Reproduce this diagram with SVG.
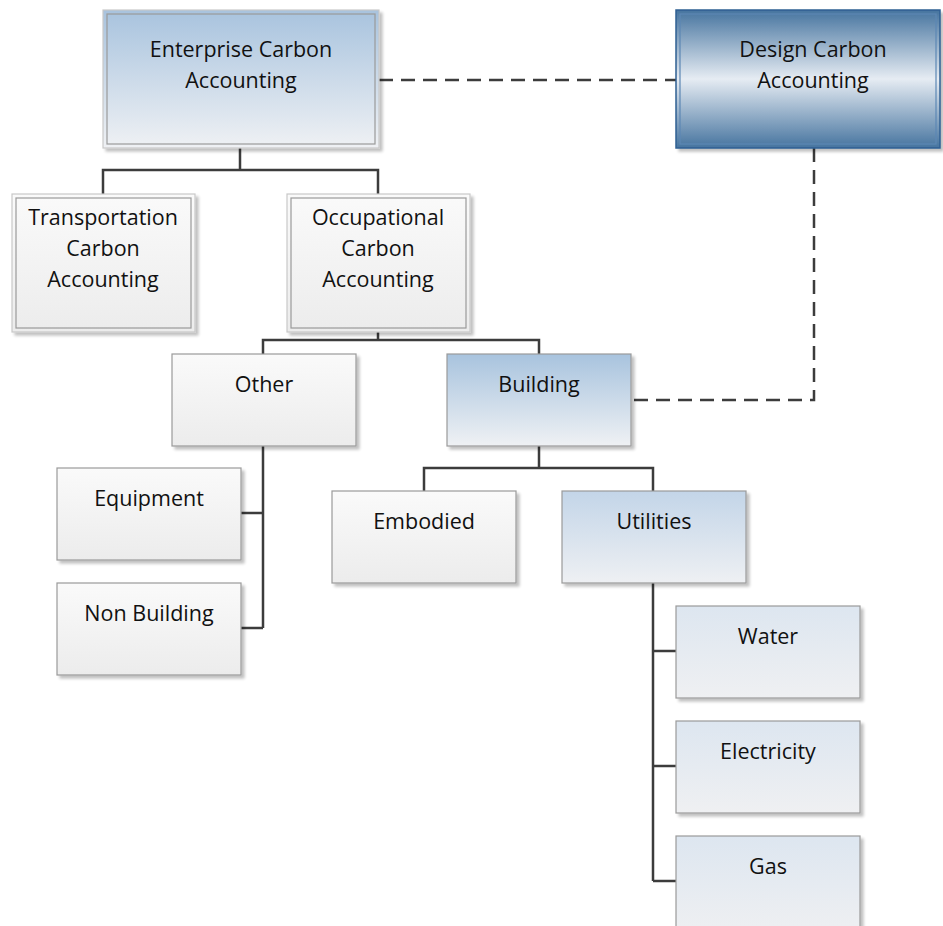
<svg xmlns="http://www.w3.org/2000/svg" width="943" height="926" viewBox="0 0 943 926">
  <defs>
    <linearGradient id="gGray" x1="0" y1="0" x2="0" y2="1">
      <stop offset="0" stop-color="#fafafa"/>
      <stop offset="1" stop-color="#ececec"/>
    </linearGradient>
    <linearGradient id="gBlue" x1="0" y1="0" x2="0" y2="1">
      <stop offset="0" stop-color="#a8c3de"/>
      <stop offset="1" stop-color="#eff1f4"/>
    </linearGradient>
    <linearGradient id="gBlueSoft" x1="0" y1="0" x2="0" y2="1">
      <stop offset="0" stop-color="#c3d5e8"/>
      <stop offset="1" stop-color="#eef0f3"/>
    </linearGradient>
    <linearGradient id="gPale" x1="0" y1="0" x2="0" y2="1">
      <stop offset="0" stop-color="#dde6f0"/>
      <stop offset="1" stop-color="#eff0f2"/>
    </linearGradient>
    <linearGradient id="gDark" x1="0" y1="0" x2="0" y2="1">
      <stop offset="0" stop-color="#46749f"/>
      <stop offset="0.5" stop-color="#e6ecf3"/>
      <stop offset="1" stop-color="#46749f"/>
    </linearGradient>
    <filter id="shadow" x="-10%" y="-10%" width="130%" height="130%">
      <feGaussianBlur in="SourceAlpha" stdDeviation="1.5"/>
      <feOffset dx="3" dy="3" result="b"/>
      <feComponentTransfer><feFuncA type="linear" slope="0.25"/></feComponentTransfer>
      <feMerge><feMergeNode/><feMergeNode in="SourceGraphic"/></feMerge>
    </filter>
  </defs>
  <style>
    .box { stroke: #9a9a9a; stroke-width: 1.2; filter: url(#shadow); }
    .inner { fill: none; stroke: #9a9a9a; stroke-width: 1.2; }
    .outer { stroke: #c8c8c8; stroke-width: 1.2; filter: url(#shadow); }
    .gray { fill: url(#gGray); }
    .blue { fill: url(#gBlue); }
    .bluesoft { fill: url(#gBlueSoft); }
    .pale { fill: url(#gPale); }
    .dark { fill: url(#gDark); stroke: #2f5f93; stroke-width: 1.5; filter: url(#shadow); }
    .darkin { fill: none; stroke: #5d87b4; stroke-width: 1.2; }
    text { font-family: "Open Sans", "Noto Sans", sans-serif; font-size: 21.5px; fill: #111; text-anchor: middle; }
    .link { fill: none; stroke: #3c3c3c; stroke-width: 2.5; }
    .dash { fill: none; stroke: #3c3c3c; stroke-width: 2.5; stroke-dasharray: 14 8; }
  </style>

  <g id="connectors">
    <path class="dash" d="M379 80 H676"/>
    <path class="dash" d="M814 148 V400 H631"/>
    <path class="link" d="M240 148 V170 M103 194 V170 H378 V194"/>
    <path class="link" d="M378 332 V340 M263 354 V340 H539 V354"/>
    <path class="link" d="M263 446 V628 M241 513 H263 M241 628 H263"/>
    <path class="link" d="M539 446 V468 M424 492 V468 H653 V492"/>
    <path class="link" d="M653 582 V881 M653 651 H676 M653 766 H676 M653 881 H676"/>
  </g>

  <g id="enterprise">
    <rect class="blue outer" x="103" y="10" width="276" height="138"/>
    <rect class="inner" x="107" y="14" width="268" height="130"/>
    <text x="241" y="57">Enterprise Carbon</text>
    <text x="241" y="88">Accounting</text>
  </g>

  <g id="design">
    <rect class="dark" x="676" y="10" width="264" height="138"/>
    <rect class="darkin" x="680" y="14" width="256" height="130"/>
    <text x="813" y="57">Design Carbon</text>
    <text x="813" y="88">Accounting</text>
  </g>

  <g id="transportation">
    <rect class="gray outer" x="12" y="194" width="183" height="138"/>
    <rect class="inner" x="16" y="198" width="175" height="130"/>
    <text x="103" y="225">Transportation</text>
    <text x="103" y="256">Carbon</text>
    <text x="103" y="287">Accounting</text>
  </g>

  <g id="occupational">
    <rect class="gray outer" x="287" y="194" width="183" height="138"/>
    <rect class="inner" x="291" y="198" width="175" height="130"/>
    <text x="378" y="225">Occupational</text>
    <text x="378" y="256">Carbon</text>
    <text x="378" y="287">Accounting</text>
  </g>

  <g id="other">
    <rect class="gray box" x="172" y="354" width="184" height="92"/>
    <text x="264" y="392">Other</text>
  </g>

  <g id="building">
    <rect class="blue box" x="447" y="354" width="184" height="92"/>
    <text x="539" y="392">Building</text>
  </g>

  <g id="equipment">
    <rect class="gray box" x="57" y="468" width="184" height="92"/>
    <text x="149" y="506">Equipment</text>
  </g>

  <g id="non-building">
    <rect class="gray box" x="57" y="583" width="184" height="92"/>
    <text x="149" y="621">Non Building</text>
  </g>

  <g id="embodied">
    <rect class="gray box" x="332" y="491" width="184" height="92"/>
    <text x="424" y="529">Embodied</text>
  </g>

  <g id="utilities">
    <rect class="bluesoft box" x="562" y="491" width="184" height="92"/>
    <text x="654" y="529">Utilities</text>
  </g>

  <g id="water">
    <rect class="pale box" x="676" y="606" width="184" height="92"/>
    <text x="768" y="644">Water</text>
  </g>

  <g id="electricity">
    <rect class="pale box" x="676" y="721" width="184" height="92"/>
    <text x="768" y="759">Electricity</text>
  </g>

  <g id="gas">
    <rect class="pale box" x="676" y="836" width="184" height="100"/>
    <text x="768" y="874">Gas</text>
  </g>
</svg>
